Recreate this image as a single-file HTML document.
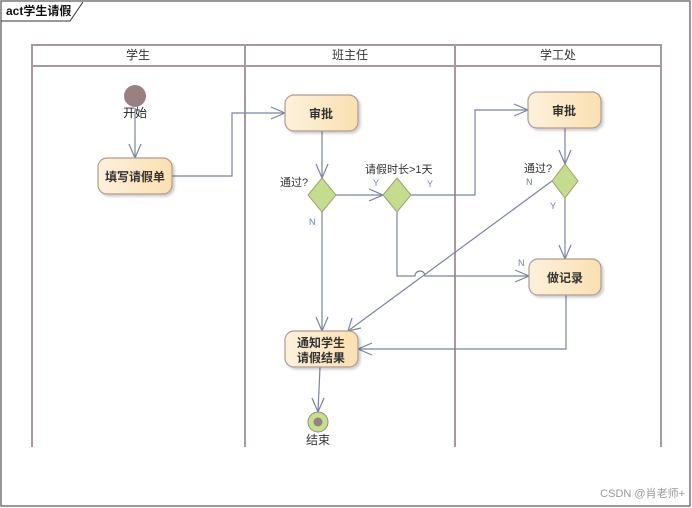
<!DOCTYPE html>
<html><head><meta charset="utf-8"><style>
html,body{margin:0;padding:0;background:#fff;}
svg{display:block;font-family:"Liberation Sans","Noto Sans CJK SC",sans-serif;}
</style></head><body>
<svg width="692" height="508" viewBox="0 0 692 508" xmlns="http://www.w3.org/2000/svg">
<defs>
<linearGradient id="g" x1="0" y1="0" x2="1" y2="0">
<stop offset="0" stop-color="#fdf1dc"/><stop offset="1" stop-color="#fbe0b0"/>
</linearGradient>
<filter id="sh" x="-10%" y="-10%" width="130%" height="140%"><feDropShadow dx="2" dy="2" stdDeviation="1.2" flood-color="#000" flood-opacity="0.2"/></filter>
</defs>
<rect x="1" y="1" width="689" height="505" fill="#fff" stroke="#777" stroke-width="1.5"/>
<path d="M1,21 L70,21 L83,2" fill="none" stroke="#333" stroke-width="1"/>
<text x="6" y="15" font-size="12" font-weight="bold" fill="#111">act学生请假</text>
<!-- lanes -->
<g stroke="#a89a9a" stroke-width="2" fill="none">
<path d="M32,447 V45 H661 V447"/>
<line x1="32" y1="66" x2="661" y2="66"/>
<line x1="245" y1="45" x2="245" y2="447"/>
<line x1="455" y1="45" x2="455" y2="447"/>
</g>
<g font-size="12" fill="#333" text-anchor="middle">
<text x="138" y="59">学生</text><text x="350" y="59">班主任</text><text x="558" y="59">学工处</text>
</g>
<!-- connectors -->
<g stroke="#7a84a0" stroke-width="1.2" fill="none">
<line x1="135" y1="108" x2="135" y2="158"/><path d="M129,144 L135,158 L141,144"/>
<path d="M172,176 H232 V113 H285"/><path d="M271,107 L285,113 L271,119"/>
<line x1="322" y1="131" x2="322" y2="178"/><path d="M316,164 L322,178 L328,164"/>
<line x1="336" y1="195" x2="383" y2="195"/><path d="M369,189 L383,195 L369,201"/>
<path d="M411,195 H475 V110 H528"/><path d="M514,104 L528,110 L514,116"/>
<line x1="565" y1="128" x2="565" y2="164"/><path d="M559,150 L565,164 L571,150"/>
<line x1="565" y1="198" x2="565" y2="259"/><path d="M559,245 L565,259 L571,245"/>
<path d="M397,212 V276 H415 A5,5 0 0 1 425,276 H529"/><path d="M515,270 L529,276 L515,282"/>
<line x1="552" y1="181" x2="348" y2="331"/><path d="M352,318 L348,331 L361,328"/>
<line x1="322" y1="212" x2="322" y2="331"/><path d="M316,317 L322,331 L328,317"/>
<path d="M566,295 V349 H358"/><path d="M372,343 L358,349 L372,355"/>
<line x1="320" y1="367" x2="318" y2="412"/><path d="M312,398 L318,412 L324,398"/>
</g>
<!-- start -->
<circle cx="135" cy="96" r="11" fill="#9a8080"/>
<text x="135" y="117" font-size="12" fill="#222" text-anchor="middle">开始</text>
<!-- end -->
<circle cx="318" cy="422" r="10" fill="#c4df8e" stroke="#9a8a70" stroke-width="1"/>
<circle cx="318" cy="422" r="4.5" fill="#9a8080"/>
<text x="318" y="444" font-size="12" fill="#333" text-anchor="middle">结束</text>
<!-- activities -->
<g fill="url(#g)" stroke="#b09a90" stroke-width="1.2" filter="url(#sh)">
<rect x="98" y="158" width="74" height="36" rx="9"/>
<rect x="285" y="95" width="73" height="36" rx="9"/>
<rect x="528" y="92" width="73" height="36" rx="9"/>
<rect x="529" y="259" width="72" height="36" rx="9"/>
<rect x="285" y="331" width="73" height="36" rx="9"/>
</g>
<g font-size="12" font-weight="bold" fill="#333" text-anchor="middle">
<text x="135" y="181">填写请假单</text>
<text x="321" y="118">审批</text>
<text x="564" y="115">审批</text>
<text x="565" y="282">做记录</text>
<text x="321" y="347">通知学生</text>
<text x="321" y="362">请假结果</text>
</g>
<!-- decisions -->
<g fill="#c4dc8e" stroke="#a0a070" stroke-width="1">
<path d="M322,178 L336,195 L322,212 L308,195 Z"/>
<path d="M397,178 L411,195 L397,212 L383,195 Z"/>
<path d="M565,164 L578,181 L565,198 L552,181 Z"/>
</g>
<g font-size="11" fill="#333">
<text x="280" y="186">通过?</text>
<text x="365" y="173">请假时长&gt;1天</text>
<text x="524" y="172">通过?</text>
</g>
<g font-size="9" fill="#6b7fa8">
<text x="309" y="225">N</text>
<text x="373" y="186">Y</text>
<text x="427" y="187">Y</text>
<text x="526" y="185">N</text>
<text x="550" y="209">Y</text>
<text x="518" y="266">N</text>
</g>
<text x="685" y="497" font-size="11" fill="#999" text-anchor="end">CSDN @肖老师+</text>
</svg>
</body></html>
